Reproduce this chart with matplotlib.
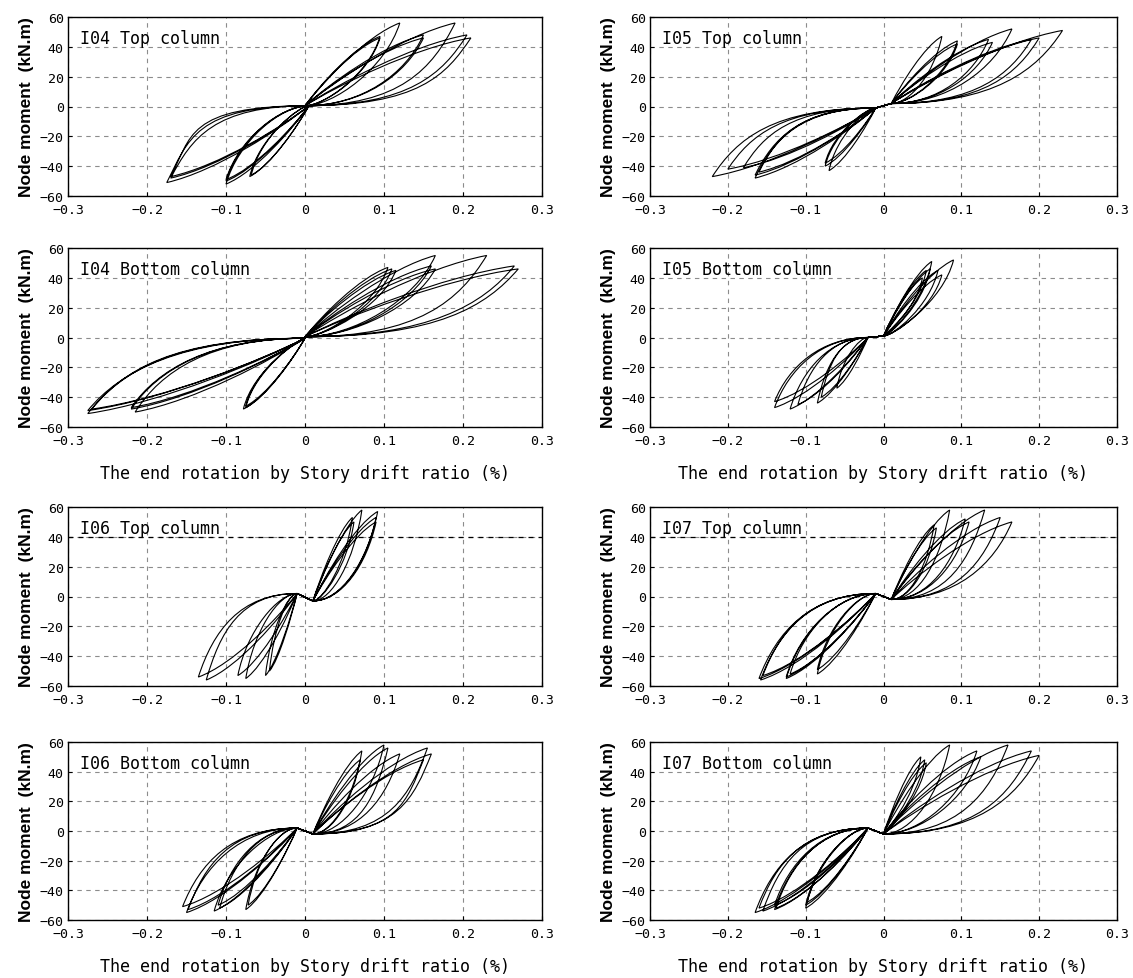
import matplotlib
matplotlib.use("Agg")
import matplotlib.pyplot as plt
from matplotlib.path import Path
from matplotlib.patches import PathPatch


# Cycle peaks (drift %, moment kN.m)
# slip = length of the flat (pinched) part of the reloading branch

# I04 Top column
i04_top_pos_x = [0.095, 0.095, 0.12, 0.15, 0.15, 0.19, 0.205, 0.21]
i04_top_pos_y = [47, 46, 56, 48, 46, 56, 48, 46]
i04_top_neg_x = [-0.07, -0.068, -0.10, -0.10, -0.10, -0.17, -0.175, -0.17]
i04_top_neg_y = [-47, -46, -50, -52, -49, -48, -51, -47]
i04_top_slip_pos = [0.02, 0.02, 0.03, 0.06, 0.06, 0.10, 0.11, 0.12]
i04_top_slip_neg = [-0.01, -0.01, -0.03, -0.03, -0.03, -0.10, -0.12, -0.13]
i04_top_pinch = [(0.0, 0.5), (0.005, 0.5)]

# I04 Bottom column
i04_bot_pos_x = [0.105, 0.11, 0.115, 0.165, 0.16, 0.165, 0.23, 0.265, 0.27]
i04_bot_pos_y = [47, 46, 45, 55, 48, 46, 55, 48, 46]
i04_bot_neg_x = [-0.075, -0.078, -0.075, -0.22, -0.215, -0.22, -0.275, -0.275, -0.27]
i04_bot_neg_y = [-47, -48, -46, -48, -50, -47, -49, -51, -48]
i04_bot_slip_pos = [0.02, 0.02, 0.02, 0.05, 0.05, 0.05, 0.12, 0.13, 0.14]
i04_bot_slip_neg = [-0.005, -0.005, -0.005, -0.10, -0.10, -0.10, -0.13, -0.14, -0.14]
i04_bot_pinch = [(0.0, 0.5), (0.0, -0.5)]

# I05 Top column
i05_top_pos_x = [0.075, 0.095, 0.095, 0.135, 0.14, 0.165, 0.19, 0.20, 0.23]
i05_top_pos_y = [47, 44, 42, 45, 43, 52, 45, 46, 51]
i05_top_neg_x = [-0.075, -0.07, -0.075, -0.16, -0.165, -0.18, -0.20, -0.22, -0.165]
i05_top_neg_y = [-38, -43, -40, -44, -48, -41, -42, -47, -46]
i05_top_slip_pos = [0.02, 0.02, 0.02, 0.05, 0.05, 0.06, 0.09, 0.10, 0.11]
i05_top_slip_neg = [-0.01, -0.01, -0.01, -0.08, -0.08, -0.09, -0.10, -0.11, -0.08]
i05_top_pinch = [(0.01, 2), (-0.01, -1)]

# I05 Bottom column
i05_bot_pos_x = [0.05, 0.055, 0.06, 0.062, 0.07, 0.09, 0.075]
i05_bot_pos_y = [40, 45, 46, 51, 45, 52, 42]
i05_bot_neg_x = [-0.06, -0.085, -0.08, -0.11, -0.12, -0.14, -0.14]
i05_bot_neg_y = [-34, -44, -40, -45, -48, -47, -43]
i05_bot_slip_pos = [0.0, 0.0, 0.005, 0.005, 0.01, 0.01, 0.01]
i05_bot_slip_neg = [-0.01, -0.03, -0.03, -0.04, -0.04, -0.05, -0.05]
i05_bot_pinch = [(0.0, 1), (-0.02, 0)]

# I06 Top column
i06_top_pos_x = [0.06, 0.062, 0.072, 0.09, 0.092, 0.09]
i06_top_pos_y = [53, 50, 58, 53, 57, 50]
i06_top_neg_x = [-0.05, -0.045, -0.085, -0.075, -0.135, -0.125]
i06_top_neg_y = [-53, -50, -53, -55, -54, -56]
i06_top_slip_pos = [0.01, 0.01, 0.02, 0.03, 0.03, 0.03]
i06_top_slip_neg = [-0.01, -0.01, -0.02, -0.02, -0.06, -0.06]
i06_top_pinch = [(0.01, -3), (-0.01, 2)]

# I06 Bottom column
i06_bot_pos_x = [0.072, 0.07, 0.10, 0.105, 0.12, 0.155, 0.16, 0.15]
i06_bot_pos_y = [54, 48, 58, 56, 52, 56, 52, 48]
i06_bot_neg_x = [-0.075, -0.072, -0.115, -0.11, -0.108, -0.15, -0.155, -0.148]
i06_bot_neg_y = [-53, -50, -54, -50, -52, -55, -51, -53]
i06_bot_slip_pos = [0.02, 0.02, 0.03, 0.05, 0.05, 0.08, 0.09, 0.09]
i06_bot_slip_neg = [-0.02, -0.02, -0.03, -0.04, -0.04, -0.06, -0.07, -0.07]
i06_bot_pinch = [(0.01, -2), (-0.01, 2)]

# I07 Top column
i07_top_pos_x = [0.065, 0.068, 0.085, 0.105, 0.11, 0.13, 0.15, 0.165]
i07_top_pos_y = [48, 46, 58, 52, 50, 58, 53, 50]
i07_top_neg_x = [-0.085, -0.085, -0.125, -0.12, -0.125, -0.16, -0.155, -0.158]
i07_top_neg_y = [-52, -49, -54, -52, -55, -55, -53, -56]
i07_top_slip_pos = [0.02, 0.02, 0.03, 0.04, 0.04, 0.06, 0.07, 0.07]
i07_top_slip_neg = [-0.02, -0.02, -0.04, -0.04, -0.04, -0.07, -0.07, -0.07]
i07_top_pinch = [(0.01, -2), (-0.01, 2)]

# I07 Bottom column
i07_bot_pos_x = [0.048, 0.053, 0.055, 0.085, 0.12, 0.125, 0.16, 0.19, 0.20]
i07_bot_pos_y = [50, 48, 46, 58, 54, 50, 58, 54, 51]
i07_bot_neg_x = [-0.10, -0.098, -0.10, -0.14, -0.14, -0.138, -0.155, -0.165, -0.16]
i07_bot_neg_y = [-52, -48, -50, -53, -50, -52, -54, -55, -52]
i07_bot_slip_pos = [0.0, 0.0, 0.0, 0.03, 0.04, 0.04, 0.08, 0.10, 0.10]
i07_bot_slip_neg = [-0.02, -0.02, -0.02, -0.05, -0.05, -0.05, -0.07, -0.07, -0.07]
i07_bot_pinch = [(0.0, -2), (-0.02, 2)]

x_ticks = [-0.3, -0.2, -0.1, 0, 0.1, 0.2, 0.3]
x_tick_labels = ["\u22120.3", "\u22120.2", "\u22120.1", "0", "0.1", "0.2", "0.3"]
y_ticks = [-60, -40, -20, 0, 20, 40, 60]
y_tick_labels = ["\u221260", "\u221240", "\u221220", "0", "20", "40", "60"]

XLABEL = "The end rotation by Story drift ratio (%)"
YLABEL = "Node moment  (kN.m)"


def half_loop(cx, cy, xp, yp, slip):
    # pinched half cycle: flat reloading to the peak, bowed branch back
    dx, dy = xp - cx, yp - cy
    verts = [(cx + 1.2 * slip, cy), (xp - 0.15 * dx, cy + 0.45 * dy), (xp, yp),
             (xp - 0.35 * dx, yp - 0.15 * dy), (cx + 0.2 * dx, cy + 0.3 * dy), (cx, cy)]
    return verts, [Path.CURVE4] * 6


def hysteresis(ax, pos_x, pos_y, neg_x, neg_y, slip_pos, slip_neg, pinch):
    (px, py), (nx, ny) = pinch
    verts, codes = [(nx, ny)], [Path.MOVETO]
    for i in range(len(pos_x)):
        verts.append((px, py)); codes.append(Path.LINETO)
        v, c = half_loop(px, py, pos_x[i], pos_y[i], slip_pos[i])
        verts += v; codes += c
        verts.append((nx, ny)); codes.append(Path.LINETO)
        v, c = half_loop(nx, ny, neg_x[i], neg_y[i], slip_neg[i])
        verts += v; codes += c
    ax.add_patch(PathPatch(Path(verts, codes), facecolor="none", edgecolor="black", lw=0.8))


panels = [
    ("I04 Top column", i04_top_pos_x, i04_top_pos_y, i04_top_neg_x, i04_top_neg_y,
     i04_top_slip_pos, i04_top_slip_neg, i04_top_pinch),
    ("I05 Top column", i05_top_pos_x, i05_top_pos_y, i05_top_neg_x, i05_top_neg_y,
     i05_top_slip_pos, i05_top_slip_neg, i05_top_pinch),
    ("I04 Bottom column", i04_bot_pos_x, i04_bot_pos_y, i04_bot_neg_x, i04_bot_neg_y,
     i04_bot_slip_pos, i04_bot_slip_neg, i04_bot_pinch),
    ("I05 Bottom column", i05_bot_pos_x, i05_bot_pos_y, i05_bot_neg_x, i05_bot_neg_y,
     i05_bot_slip_pos, i05_bot_slip_neg, i05_bot_pinch),
    ("I06 Top column", i06_top_pos_x, i06_top_pos_y, i06_top_neg_x, i06_top_neg_y,
     i06_top_slip_pos, i06_top_slip_neg, i06_top_pinch),
    ("I07 Top column", i07_top_pos_x, i07_top_pos_y, i07_top_neg_x, i07_top_neg_y,
     i07_top_slip_pos, i07_top_slip_neg, i07_top_pinch),
    ("I06 Bottom column", i06_bot_pos_x, i06_bot_pos_y, i06_bot_neg_x, i06_bot_neg_y,
     i06_bot_slip_pos, i06_bot_slip_neg, i06_bot_pinch),
    ("I07 Bottom column", i07_bot_pos_x, i07_bot_pos_y, i07_bot_neg_x, i07_bot_neg_y,
     i07_bot_slip_pos, i07_bot_slip_neg, i07_bot_pinch),
]

W, H = 1133, 979
col_left = [68, 650]
col_right = [542, 1117]
row_top = [18, 249, 508, 743]
row_bot = [197, 428, 687, 921]

fig = plt.figure(figsize=(W / 100, H / 100), dpi=100)
mono = "DejaVu Sans Mono"

for k, (name, *data) in enumerate(panels):
    r, c = divmod(k, 2)
    x0 = col_left[c] / W
    w = (col_right[c] - col_left[c]) / W
    y0 = 1 - row_bot[r] / H
    h = (row_bot[r] - row_top[r]) / H
    ax = fig.add_axes([x0, y0, w, h])

    ax.set_xlim(-0.3, 0.3)
    ax.set_ylim(-60, 60)
    ax.set_xticks(x_ticks)
    ax.set_xticklabels(x_tick_labels, family=mono, fontsize=9.5)
    ax.set_yticks(y_ticks)
    ax.set_yticklabels(y_tick_labels, family=mono, fontsize=9.5)
    ax.tick_params(direction="in", length=3, width=0.8, pad=3)
    ax.tick_params(axis="x", pad=5)
    ax.grid(True, ls=(0, (4, 4)), color="#8c8c8c", lw=0.8)
    ax.set_axisbelow(True)
    if r == 2:
        ax.axhline(40, color="black", ls=(0, (4, 4)), lw=0.9)
    for s in ax.spines.values():
        s.set_linewidth(1.0)

    hysteresis(ax, *data)

    ax.text(0.025, 0.88, name, transform=ax.transAxes, family=mono,
            fontsize=12, va="center", ha="left")
    ax.set_ylabel(YLABEL, family="Liberation Sans", fontweight="bold",
                  fontsize=12.5, labelpad=4)
    if r in (1, 3):
        ax.set_xlabel(XLABEL, family=mono, fontsize=12, labelpad=12)

fig.savefig("out.png", dpi=100)
